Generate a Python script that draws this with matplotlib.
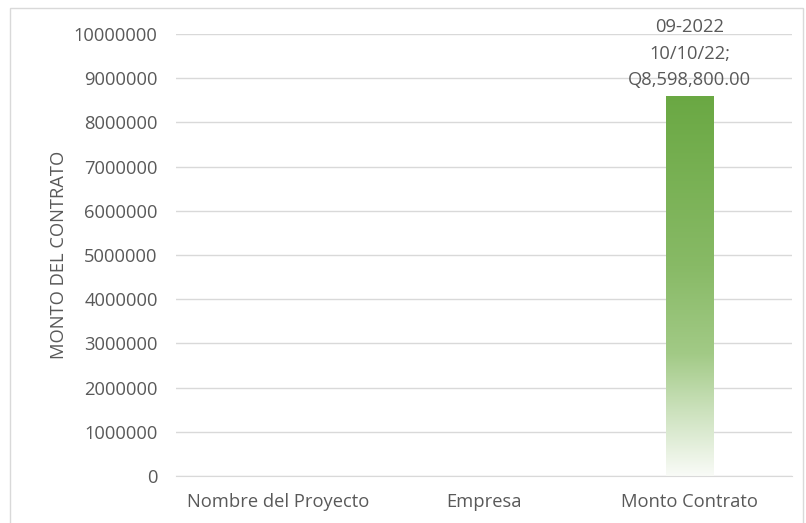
import matplotlib.pyplot as plt
import numpy as np
from matplotlib.colors import LinearSegmentedColormap
from matplotlib.patches import Rectangle

categories = ['Nombre del Proyecto', 'Empresa', 'Monto Contrato']
values = [0, 0, 8598800]
bar_label = '09-2022\n10/10/22;\nQ8,598,800.00'
y_ticks = [0, 1000000, 2000000, 3000000, 4000000, 5000000,
           6000000, 7000000, 8000000, 9000000, 10000000]

text_color = '#595959'
grid_color = '#d9d9d9'
fs = 13.2

plt.rcParams['font.family'] = ['Open Sans', 'DejaVu Sans']

fig = plt.figure(figsize=(8.06, 5.23), dpi=100)
ax = fig.add_axes([0.218, 0.09, 0.765, 0.845])

# light border around the whole chart area
fig.patches.append(Rectangle((10 / 806, -0.01), 793 / 806, 1 - 8 / 523 + 0.01,
                             transform=fig.transFigure, fill=False,
                             edgecolor='#d9d9d9', linewidth=1))

x = np.arange(len(categories))
bar_width = 0.23

# vertical gradient: green on top fading to white at the base
green_fade = LinearSegmentedColormap.from_list(
    'green_fade',
    [(0.0, '#6aa843'), (0.45, '#88ba66'), (0.68, '#a2ca86'),
     (0.82, '#c9e0b9'), (1.0, '#f9fbf7')])
gradient = np.linspace(0, 1, 256).reshape(-1, 1)

for xi, val in zip(x, values):
    if val <= 0:
        continue
    bar = ax.bar(xi, val, width=bar_width, color='none', zorder=2)[0]
    img = ax.imshow(gradient, cmap=green_fade, aspect='auto',
                    extent=[xi - bar_width / 2, xi + bar_width / 2, 0, val],
                    origin='upper', zorder=2)
    img.set_clip_path(bar)
    ax.text(xi, val + 150000, bar_label, ha='center', va='bottom',
            color=text_color, fontsize=fs, linespacing=1.62)

ax.set_xlim(-0.5, len(categories) - 0.5)
ax.set_ylim(0, 10000000)
ax.set_yticks(y_ticks)
ax.set_yticklabels([str(t) for t in y_ticks])
ax.set_xticks(x)
ax.set_xticklabels(categories)

ax.grid(axis='y', color=grid_color, linewidth=1)
ax.set_axisbelow(True)
for side in ['top', 'right', 'left']:
    ax.spines[side].set_visible(False)
ax.spines['bottom'].set_color(grid_color)
ax.tick_params(axis='both', length=0, colors=text_color, labelsize=fs)
ax.tick_params(axis='y', pad=13)
ax.tick_params(axis='x', pad=12)

ax.set_ylabel('MONTO DEL CONTRATO', color=text_color, fontsize=fs, labelpad=4)

fig.savefig('out.png', dpi=100)
